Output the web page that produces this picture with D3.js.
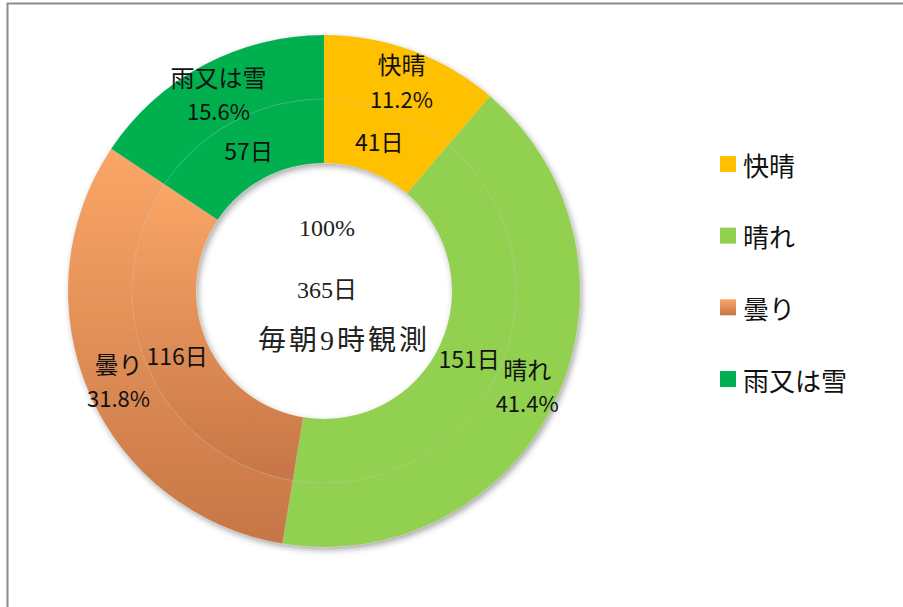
<!DOCTYPE html>
<html>
<head>
<meta charset="utf-8">
<script src="https://cdn.jsdelivr.net/npm/d3@7"></script>
<style>
  html, body { margin: 0; padding: 0; background: #fff; }
  svg { display: block; }
  .lbl { font-family: "Noto Sans CJK JP", "Noto Sans", sans-serif; fill: #111; }
  .ctr { font-family: "Liberation Serif", "DejaVu Serif", "Noto Sans CJK JP", serif; fill: #222; }
  .leg { font-family: "Noto Sans CJK JP", "Noto Sans", sans-serif; font-size: 26px; fill: #111; }
</style>
</head>
<body>
<div id="chart"></div>
<script>
// データ
const categories = ["快晴", "晴れ", "曇り", "雨又は雪"];
const days = [41, 151, 116, 57];
const colors = ["#FFC000", "#92D050", "url(#gradOrange)", "#00B050"];
const legendColors = ["#FFC000", "#92D050", "url(#gradOrange)", "#00B050"];
const centerLines = ["100%", "365日", "毎朝9時観測"];

const W = 903, H = 607;
const cx = 324, cy = 291;
const rOuter = 256, rMid = 192, rInner = 128;

const svg = d3.select("#chart").append("svg")
    .attr("width", W).attr("height", H);

const defs = svg.append("defs");

// 曇りのグラデーション
const g = defs.append("linearGradient").attr("id", "gradOrange")
    .attr("x1", 0).attr("y1", 0).attr("x2", 0).attr("y2", 1);
g.append("stop").attr("offset", "0%").attr("stop-color", "#FBA667");
g.append("stop").attr("offset", "100%").attr("stop-color", "#C67646");

// 影
const f = defs.append("filter").attr("id", "shadow")
    .attr("x", "-10%").attr("y", "-10%").attr("width", "120%").attr("height", "120%");
f.append("feDropShadow").attr("dx", 2).attr("dy", 3).attr("stdDeviation", 3)
    .attr("flood-color", "#000").attr("flood-opacity", 0.35);

// 枠線
svg.append("path")
    .attr("d", `M7.5,${H} V3.5 H${W}`)
    .attr("fill", "none").attr("stroke", "#8c8c8c").attr("stroke-width", 2);

const total = d3.sum(days);
const pct = d3.format(".1%");
const data = categories.map((c, i) => ({ name: c, value: days[i], color: colors[i] }));

const pie = d3.pie().value(d => d.value).sort(null);
const arcs = pie(data);

const arcOuter = d3.arc().innerRadius(rMid).outerRadius(rOuter);
const arcInner = d3.arc().innerRadius(rInner).outerRadius(rMid);

const ring = svg.append("g")
    .attr("transform", `translate(${cx},${cy})`)
    .attr("filter", "url(#shadow)");

ring.selectAll("path.outer").data(arcs).enter().append("path")
    .attr("class", "outer")
    .attr("d", arcOuter)
    .attr("fill", d => d.data.color)
    .attr("stroke", "rgba(200,200,200,0.25)").attr("stroke-width", 0.6);

ring.selectAll("path.inner").data(arcs).enter().append("path")
    .attr("class", "inner")
    .attr("d", arcInner)
    .attr("fill", d => d.data.color)
    .attr("stroke", "rgba(200,200,200,0.25)").attr("stroke-width", 0.6);

// ラベル
const labels = svg.append("g").attr("transform", `translate(${cx},${cy})`);

arcs.forEach(d => {
    const [ox, oy] = arcOuter.centroid(d);
    labels.append("text").attr("class", "lbl")
        .attr("x", ox).attr("y", oy - 17)
        .attr("font-size", "24px")
        .attr("text-anchor", "middle").attr("dominant-baseline", "central")
        .text(d.data.name);
    labels.append("text").attr("class", "lbl")
        .attr("x", ox).attr("y", oy + 17)
        .attr("font-size", "22px")
        .attr("text-anchor", "middle").attr("dominant-baseline", "central")
        .text(pct(d.data.value / total));
    const [ix, iy] = arcInner.centroid(d);
    labels.append("text").attr("class", "lbl")
        .attr("x", ix).attr("y", iy)
        .attr("font-size", "23px")
        .attr("text-anchor", "middle").attr("dominant-baseline", "central")
        .text(d.data.value + "日");
});

// 中央テキスト
const centerY = [-63, -1, 49];
const centerSize = [24, 24, 28];
const centerX = [3, 3, 20];
const centerSpacing = [0, 0, 3];
centerLines.forEach((t, i) => {
    labels.append("text").attr("class", "ctr")
        .attr("x", centerX[i]).attr("y", centerY[i])
        .attr("font-size", centerSize[i] + "px")
        .attr("letter-spacing", centerSpacing[i])
        .attr("text-anchor", "middle").attr("dominant-baseline", "central")
        .text(t);
});

// 凡例
const legend = svg.append("g").attr("transform", "translate(720,164)");
const legY = d3.scalePoint().domain(categories).range([0, 215]);
categories.forEach((c, i) => {
    const row = legend.append("g").attr("transform", `translate(0,${legY(c)})`);
    row.append("rect").attr("x", 0).attr("y", -8).attr("width", 16).attr("height", 16)
        .attr("fill", legendColors[i]);
    row.append("text").attr("class", "leg")
        .attr("x", 23).attr("y", 0)
        .attr("dominant-baseline", "central")
        .text(c);
});
</script>
</body>
</html>
